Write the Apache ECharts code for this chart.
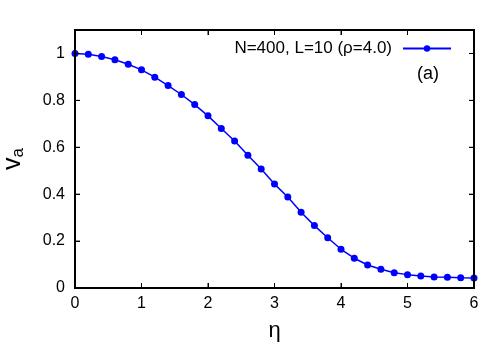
<!DOCTYPE html>
<html>
<head>
<meta charset="utf-8">
<script src="https://cdn.jsdelivr.net/npm/echarts@6/dist/echarts.min.js"></script>
<style>
  html, body { margin: 0; padding: 0; background: #fff; }
  #chart { width: 500px; height: 350px; }
</style>
</head>
<body>
<div id="chart"></div>
<script>
// eta values and order parameter v_a
const etaValues = [0, 0.2, 0.4, 0.6, 0.8, 1.0, 1.2, 1.4, 1.6, 1.8, 2.0, 2.2, 2.4, 2.6, 2.8, 3.0,
  3.2, 3.4, 3.6, 3.8, 4.0, 4.2, 4.4, 4.6, 4.8, 5.0, 5.2, 5.4, 5.6, 5.8, 6.0]
const vaValues = [1.0, 0.997, 0.987, 0.973, 0.954, 0.930, 0.899, 0.863, 0.825, 0.782, 0.734,
  0.680, 0.627, 0.566, 0.507, 0.443, 0.388, 0.323, 0.266, 0.214, 0.165, 0.127, 0.098,
  0.080, 0.065, 0.057, 0.051, 0.047, 0.046, 0.044, 0.043]
const xTicks = [0, 1, 2, 3, 4, 5, 6]
const yTicks = [0, 0.2, 0.4, 0.6, 0.8, 1.0]
const xMin = 0
const xMax = 6
const yMin = 0
const yMax = 1.1
const seriesName = 'N=400, L=10 (ρ=4.0)'
const panelLabel = '(a)'

const font = '"Liberation Sans", Arial, sans-serif'
const tickLen = 5

function axisLine() {
  return { show: true, onZero: false, lineStyle: { color: '#000', width: 2 } }
}
function tickIn() {
  return { show: true, inside: true, length: tickLen, lineStyle: { color: '#000', width: 1 } }
}

// tick marks on all four sides: [x, y, pixel dx, pixel dy] pointing inward
const tickData = []
xTicks.forEach((t) => {
  tickData.push([t, yMin, 0, -1])
  tickData.push([t, yMax, 0, 1])
})
yTicks.forEach((t) => {
  tickData.push([xMin, t, 1, 0])
  tickData.push([xMax, t, -1, 0])
})

const chart = echarts.init(document.getElementById('chart'))

chart.setOption({
  animation: false,
  grid: {
    left: 75, right: 26, top: 30, bottom: 62,
    outerBoundsMode: 'none',
    show: true, borderColor: '#000', borderWidth: 2
  },
  legend: {
    data: [seriesName],
    right: 43,
    top: 35,
    align: 'right',
    itemWidth: 48,
    itemHeight: 8,
    itemGap: 0,
    textStyle: { fontSize: 17, color: '#000', fontFamily: font, padding: [0, 6, 0, 0] }
  },
  graphic: [
    {
      type: 'text',
      left: 417,
      top: 65,
      style: { text: panelLabel, fontSize: 18, fill: '#000', fontFamily: font }
    }
  ],
  xAxis: [
    {
      type: 'value',
      min: xMin,
      max: xMax,
      interval: 1,
      name: 'η',
      nameLocation: 'middle',
      nameGap: 32,
      nameTextStyle: { fontSize: 22, color: '#000', fontFamily: font },
      axisLine: axisLine(),
      axisTick: tickIn(),
      splitLine: { show: false },
      axisLabel: { color: '#000', fontSize: 16, margin: 8, fontFamily: font }
    },
    {
      type: 'value',
      position: 'top',
      min: xMin,
      max: xMax,
      interval: 1,
      axisLine: axisLine(),
      axisTick: tickIn(),
      splitLine: { show: false },
      axisLabel: { show: false }
    }
  ],
  yAxis: [
    {
      type: 'value',
      min: yMin,
      max: yMax,
      interval: 0.2,
      name: '{v|v}{a|a}',
      nameLocation: 'middle',
      nameRotate: 90,
      nameGap: 48,
      nameTextStyle: {
        rich: {
          v: { fontSize: 25, color: '#000', fontFamily: font },
          a: { fontSize: 17, color: '#000', fontFamily: font, verticalAlign: 'bottom', padding: [10, 0, 0, 0] }
        }
      },
      axisLine: axisLine(),
      axisTick: tickIn(),
      splitLine: { show: false },
      axisLabel: { color: '#000', fontSize: 16, margin: 10, fontFamily: font, showMaxLabel: false }
    },
    {
      type: 'value',
      position: 'right',
      min: yMin,
      max: yMax,
      interval: 0.2,
      axisLine: axisLine(),
      axisTick: tickIn(),
      splitLine: { show: false },
      axisLabel: { show: false }
    }
  ],
  series: [
    {
      name: seriesName,
      type: 'line',
      data: etaValues.map((x, i) => [x, vaValues[i]]),
      symbol: 'circle',
      symbolSize: 7,
      lineStyle: { color: '#0000ff', width: 1.5 },
      itemStyle: { color: '#0000ff' }
    },
    {
      // plot frame, drawn through the axes' scale
      name: 'frame',
      type: 'custom',
      silent: true,
      clip: false,
      z: 10,
      data: [[xMin, yMin, xMax, yMax]],
      renderItem: (params, api) => {
        const p0 = api.coord([api.value(0), api.value(1)])
        const p1 = api.coord([api.value(2), api.value(3)])
        return {
          type: 'rect',
          shape: { x: p0[0], y: p1[1], width: p1[0] - p0[0], height: p0[1] - p1[1] },
          style: { fill: 'none', stroke: '#000', lineWidth: 2 }
        }
      }
    },
    {
      name: 'ticks',
      type: 'custom',
      silent: true,
      clip: false,
      z: 10,
      data: tickData,
      renderItem: (params, api) => {
        const p = api.coord([api.value(0), api.value(1)])
        return {
          type: 'line',
          shape: {
            x1: p[0], y1: p[1],
            x2: p[0] + api.value(2) * tickLen, y2: p[1] + api.value(3) * tickLen
          },
          style: { stroke: '#000', lineWidth: 1 }
        }
      }
    }
  ]
})
</script>
</body>
</html>
